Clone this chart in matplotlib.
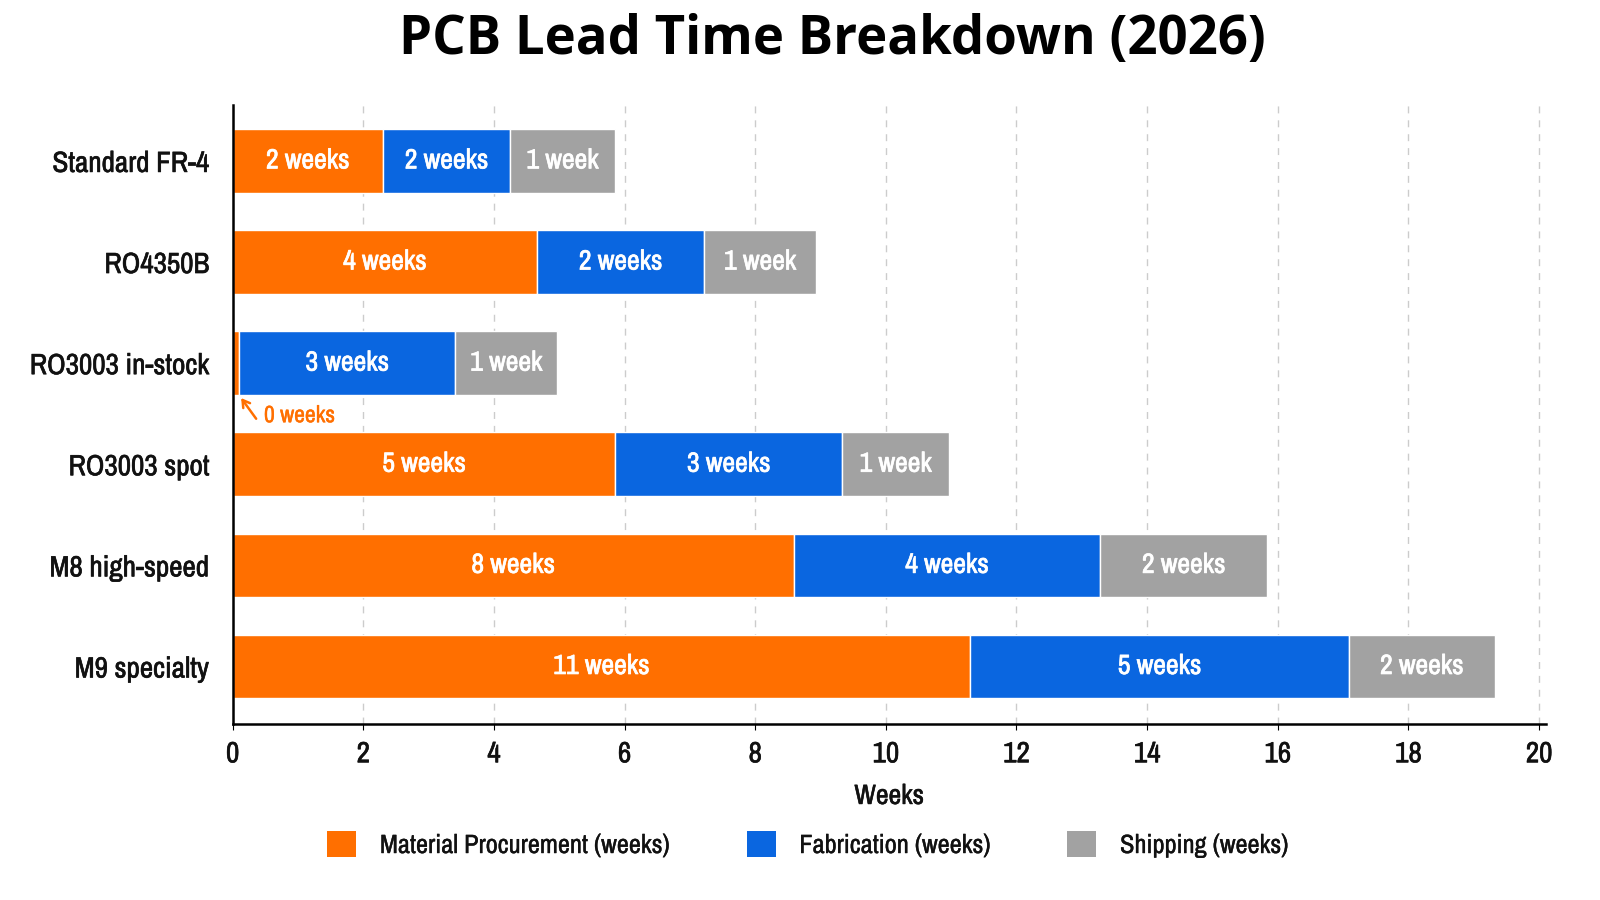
import matplotlib
matplotlib.use("Agg")
import matplotlib.pyplot as plt
import matplotlib.patheffects as pe
from matplotlib.patches import Patch
from matplotlib import font_manager

# データ
categories = ["Standard FR-4", "RO4350B", "RO3003 in-stock",
              "RO3003 spot", "M8 high-speed", "M9 specialty"]
material = [2.3, 4.66, 0.1, 5.86, 8.59, 11.29]
fabrication = [1.95, 2.56, 3.31, 3.47, 4.69, 5.8]
shipping = [1.6, 1.71, 1.56, 1.64, 2.56, 2.23]
material_labels = ["2 weeks", "4 weeks", "", "5 weeks", "8 weeks", "11 weeks"]
fabrication_labels = ["2 weeks", "2 weeks", "3 weeks", "3 weeks", "4 weeks", "5 weeks"]
shipping_labels = ["1 week", "1 week", "1 week", "1 week", "2 weeks", "2 weeks"]
series_names = ["Material Procurement (weeks)", "Fabrication (weeks)", "Shipping (weeks)"]
x_ticks = [0, 2, 4, 6, 8, 10, 12, 14, 16, 18, 20]

colors = ["#FF6F00", "#0A66E0", "#A2A2A2"]
ink = "#111111"

# 細めのフォントがあれば使う
names = sorted({f.name for f in font_manager.fontManager.ttflist})
narrow = [n for n in names if "Narrow" in n or "Condensed" in n]
base_font = narrow[0] if narrow else "Lato"
plt.rcParams["font.family"] = [base_font, "DejaVu Sans"]


def thick(color, w=0.4):
    """文字を少し太く見せる"""
    return [pe.withStroke(linewidth=w, foreground=color)]


fig = plt.figure(figsize=(16, 9), dpi=100)
ax = fig.add_axes([0.1454, 0.196, 0.8206, 0.687])

y = list(range(len(categories)))
left2 = [m + f for m, f in zip(material, fabrication)]
bar_h = 0.63

b1 = ax.barh(y, material, height=bar_h, color=colors[0], edgecolor="white", linewidth=1)
b2 = ax.barh(y, fabrication, left=material, height=bar_h, color=colors[1],
             edgecolor="white", linewidth=1)
b3 = ax.barh(y, shipping, left=left2, height=bar_h, color=colors[2],
             edgecolor="white", linewidth=1)

for bars, labels in [(b1, material_labels), (b2, fabrication_labels), (b3, shipping_labels)]:
    for t in ax.bar_label(bars, labels=labels, label_type="center", color="white",
                          fontsize=20):
        t.set_path_effects(thick("white", 0.5))

# 0週の注記
i0 = categories.index("RO3003 in-stock")
ax.annotate("", xy=(material[i0] + 0.03, i0 + bar_h / 2 + 0.03),
            xytext=(0.36, i0 + 0.55),
            arrowprops=dict(arrowstyle="->,head_length=0.5,head_width=0.3",
                            color=colors[0], lw=1.8, shrinkA=0, shrinkB=0))
ax.text(0.48, i0 + 0.52, "0 weeks", color=colors[0], fontsize=17,
        va="center", ha="left", path_effects=thick(colors[0], 0.3))

ax.set_yticks(y)
ax.set_yticklabels(categories, fontsize=21, color=ink)
ax.set_ylim(len(categories) - 1 + 0.565, -0.55)
ax.set_xlim(0, 20.1)
ax.set_xticks(x_ticks)
ax.set_xticklabels([str(t) for t in x_ticks], fontsize=21, color=ink)
for t in ax.get_yticklabels() + ax.get_xticklabels():
    t.set_path_effects(thick(ink, 0.45))
ax.tick_params(axis="y", length=0, pad=17)
ax.tick_params(axis="x", length=4, pad=8)
ax.set_xlabel("Weeks", fontsize=20, color=ink, labelpad=12,
              path_effects=thick(ink, 0.4))

ax.grid(axis="x", linestyle=(0, (5, 5)), color="#CCCCCC", linewidth=1)
ax.set_axisbelow(True)
for side in ["top", "right"]:
    ax.spines[side].set_visible(False)
ax.spines["left"].set_linewidth(1.8)
ax.spines["bottom"].set_linewidth(1.8)

fig.suptitle("PCB Lead Time Breakdown (2026)", fontsize=38, fontweight="bold",
             x=0.52, y=0.985, family=["Open Sans", "DejaVu Sans"])

handles = [Patch(facecolor=c) for c in colors]
leg = fig.legend(handles, series_names, loc="center", bbox_to_anchor=(0.505, 0.062),
                 ncol=3, frameon=False, handlelength=1.1, handleheight=1.1,
                 columnspacing=2.9, handletextpad=0.9, prop={"size": 19})
for t in leg.get_texts():
    t.set_color(ink)
    t.set_path_effects(thick(ink, 0.25))

fig.savefig("out.png", dpi=100)
